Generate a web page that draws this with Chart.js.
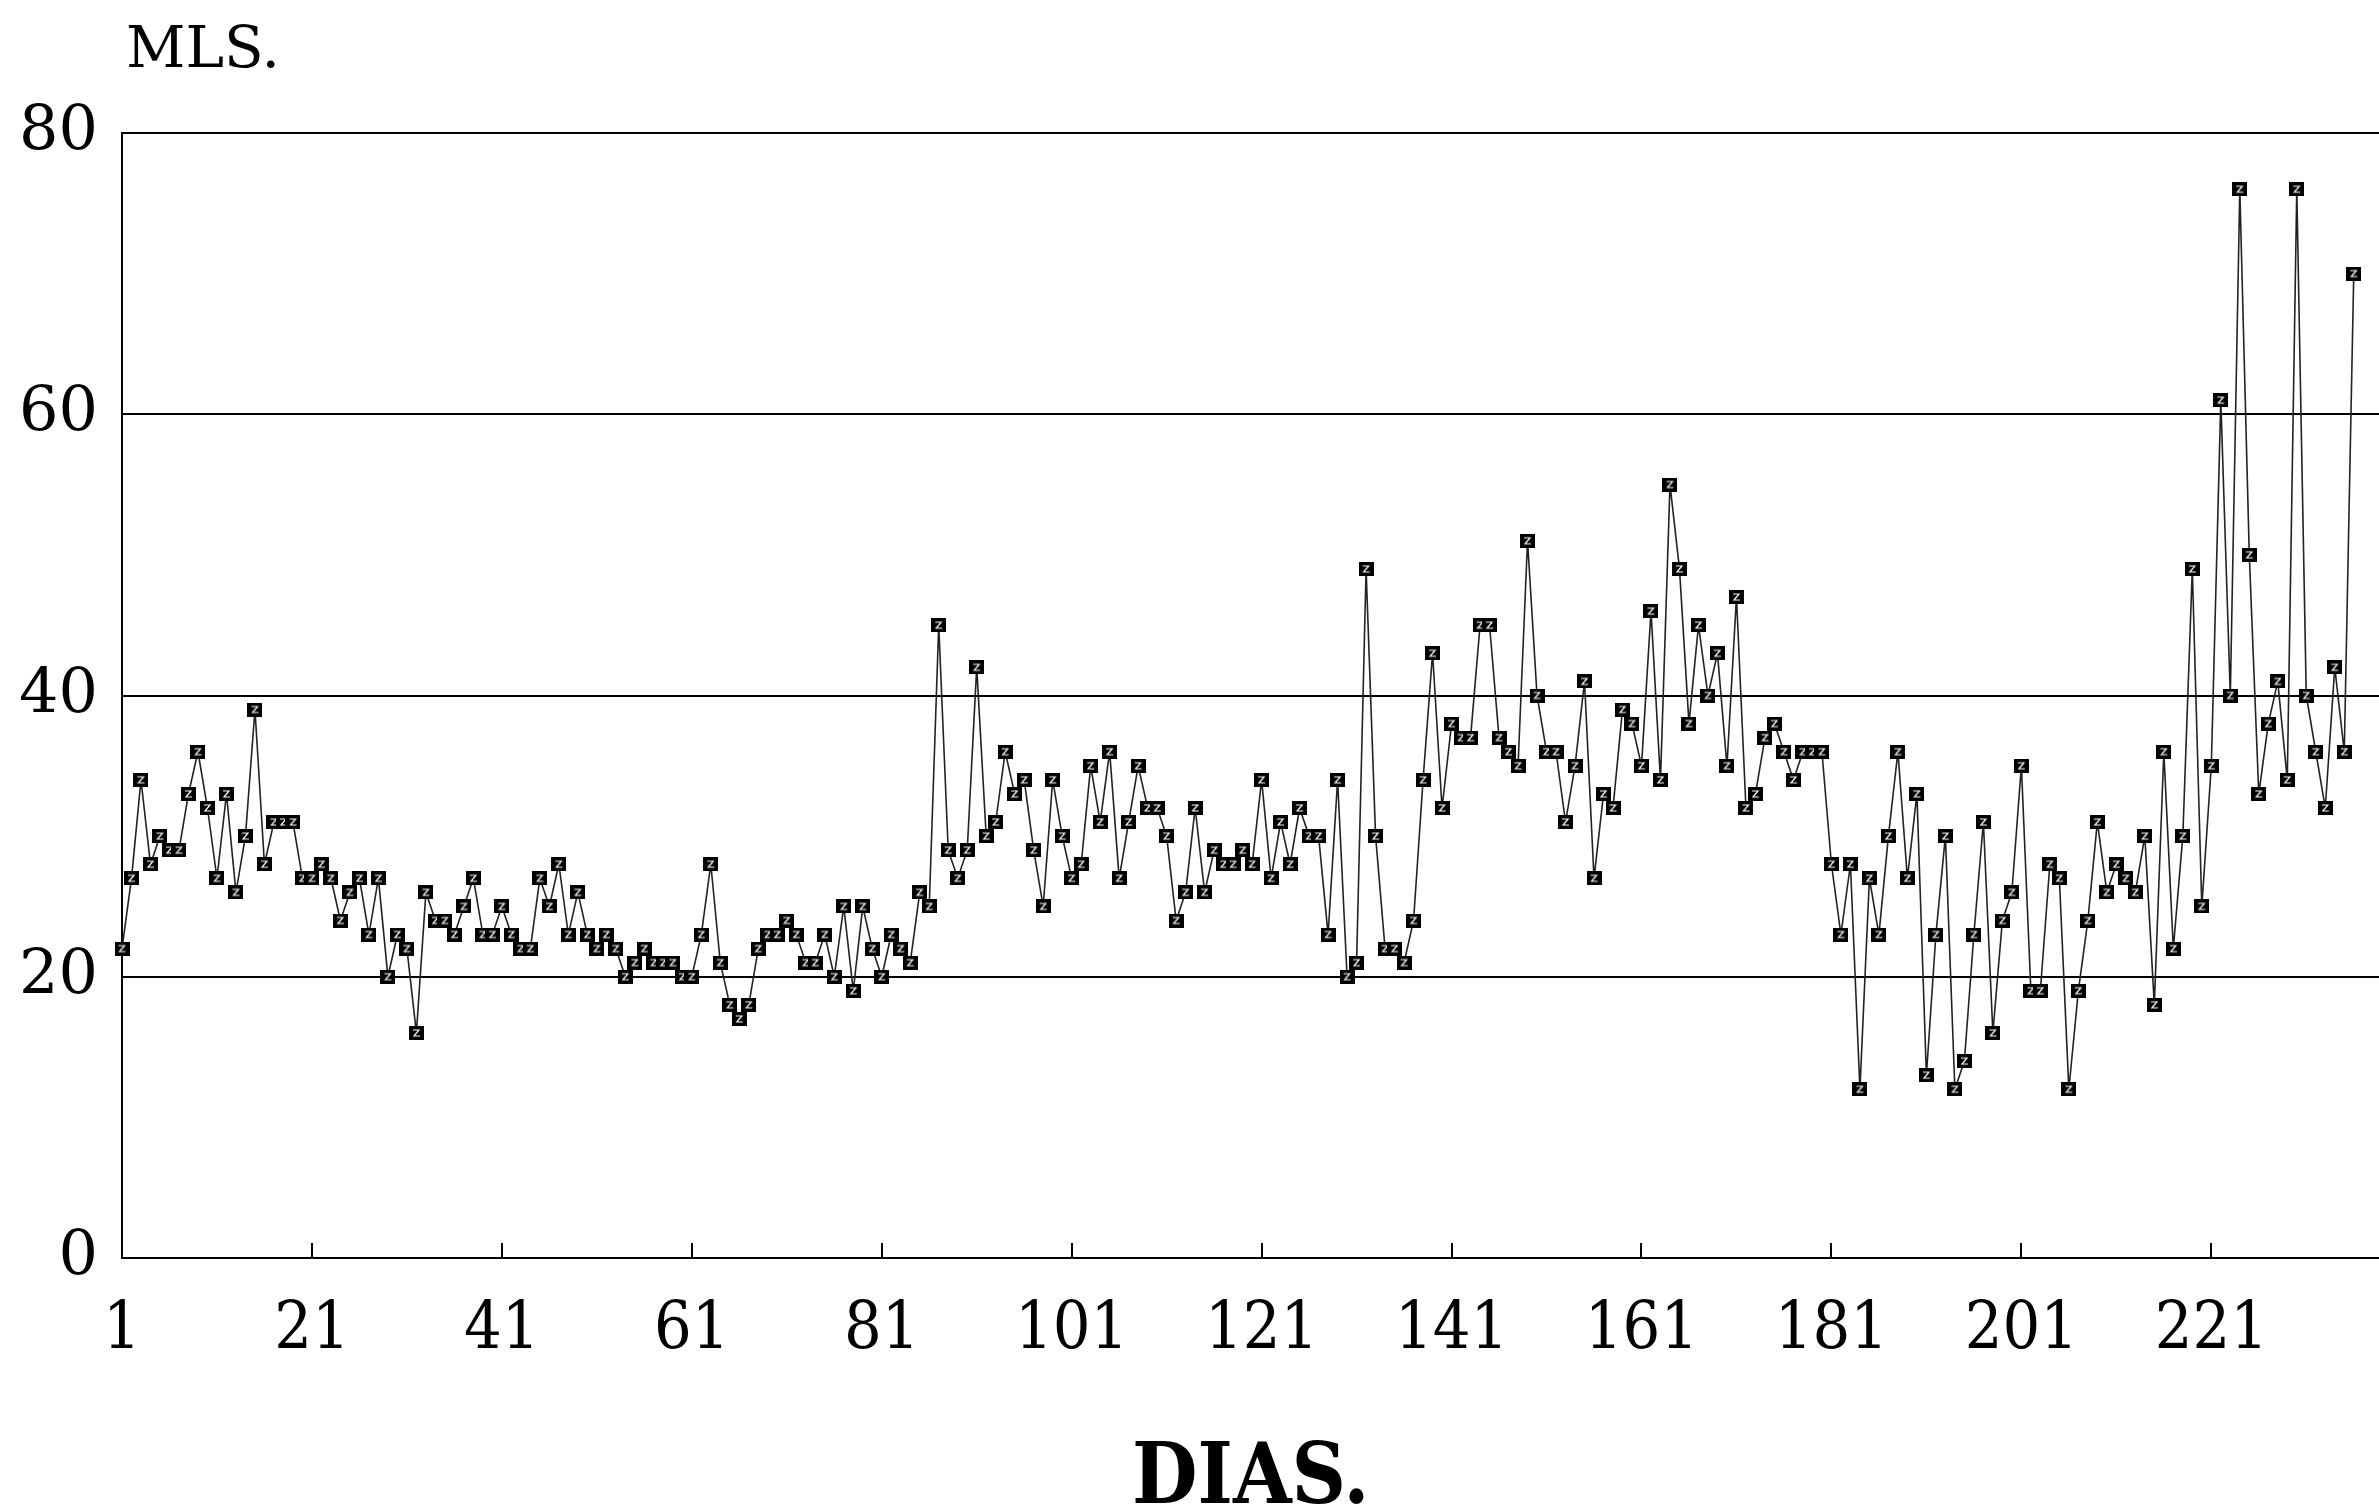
<!DOCTYPE html>
<html><head><meta charset="utf-8">
<script src="https://cdn.jsdelivr.net/npm/chart.js@4"></script>
<style>html,body{margin:0;padding:0;background:#fff;overflow:hidden}</style>
</head><body>
<canvas id="c" width="2388" height="1511"></canvas>
<script>
// Day numbers (categories) 1..236
const days = [
  1,2,3,4,5,6,7,8,9,10,11,12,13,14,15,16,17,18,19,20,
  21,22,23,24,25,26,27,28,29,30,31,32,33,34,35,36,37,38,39,40,
  41,42,43,44,45,46,47,48,49,50,51,52,53,54,55,56,57,58,59,60,
  61,62,63,64,65,66,67,68,69,70,71,72,73,74,75,76,77,78,79,80,
  81,82,83,84,85,86,87,88,89,90,91,92,93,94,95,96,97,98,99,100,
  101,102,103,104,105,106,107,108,109,110,111,112,113,114,115,116,117,118,119,120,
  121,122,123,124,125,126,127,128,129,130,131,132,133,134,135,136,137,138,139,140,
  141,142,143,144,145,146,147,148,149,150,151,152,153,154,155,156,157,158,159,160,
  161,162,163,164,165,166,167,168,169,170,171,172,173,174,175,176,177,178,179,180,
  181,182,183,184,185,186,187,188,189,190,191,192,193,194,195,196,197,198,199,200,
  201,202,203,204,205,206,207,208,209,210,211,212,213,214,215,216,217,218,219,220,
  221,222,223,224,225,226,227,228,229,230,231,232,233,234,235,236
];
// MLS. values
const mls = [
  22,27,34,28,30,29,29,33,36,32,27,33,26,30,39,28,31,31,31,27,
  27,28,27,24,26,27,23,27,20,23,22,16,26,24,24,23,25,27,23,23,
  25,23,22,22,27,25,28,23,26,23,22,23,22,20,21,22,21,21,21,20,
  20,23,28,21,18,17,18,22,23,23,24,23,21,21,23,20,25,19,25,22,
  20,23,22,21,26,25,45,29,27,29,42,30,31,36,33,34,29,25,34,30,
  27,28,35,31,36,27,31,35,32,32,30,24,26,32,26,29,28,28,29,28,
  34,27,31,28,32,30,30,23,34,20,21,49,30,22,22,21,24,34,43,32,
  38,37,37,45,45,37,36,35,51,40,36,36,31,35,41,27,33,32,39,38,
  35,46,34,55,49,38,45,40,43,35,47,32,33,37,38,36,34,36,36,36,
  28,23,28,12,27,23,30,36,27,33,13,23,30,12,14,23,31,16,24,26,
  35,19,19,28,27,12,19,24,31,26,28,27,26,30,18,36,22,30,49,25,
  35,61,40,76,50,33,38,41,34,76,40,36,32,42,36,70
];
const xTickLabels = [1,21,41,61,81,101,121,141,161,181,201,221];
const yTickLabels = [0,20,40,60,80];

function makeMarker(){
  const c = document.createElement('canvas');
  c.width = 15; c.height = 14;
  const g = c.getContext('2d');
  g.fillStyle = '#000'; g.fillRect(0,0,15,14);
  g.strokeStyle = '#fff'; g.lineWidth = 1.2;
  g.beginPath(); g.moveTo(4,4); g.lineTo(10,4); g.lineTo(5,10); g.lineTo(11,10); g.stroke();
  return c;
}
const marker = makeMarker();

const mlsLabel = {
  id: 'mlsLabel',
  afterDraw(chart){
    const ctx = chart.ctx;
    ctx.save();
    ctx.font = "58px 'DejaVu Serif'";
    ctx.fillStyle = '#000';
    ctx.textBaseline = 'alphabetic';
    ctx.textAlign = 'left';
    ctx.fillText('MLS.', 126, 67);
    ctx.restore();
  }
};

new Chart(document.getElementById('c'), {
  type: 'line',
  data: {
    datasets: [{
      data: days.map((d, i) => ({x: d, y: mls[i]})),
      borderColor: '#222',
      borderWidth: 1.6,
      tension: 0,
      pointStyle: marker,
      pointRadius: 7,
      clip: false
    }]
  },
  options: {
    responsive: false,
    animation: false,
    devicePixelRatio: 1,
    layout: {padding: {top: 133, left: 0, right: 0, bottom: 0}},
    plugins: {legend: {display: false}, tooltip: {enabled: false}},
    scales: {
      x: {
        type: 'linear', min: 1, max: 238.7,
        afterFit(s){ s.height = 253; },
        afterBuildTicks(s){ s.ticks = xTickLabels.map(v => ({value: v})); },
        ticks: {
          font: {family: "'DejaVu Serif Condensed','DejaVu Serif',serif", size: 66, lineHeight: 1},
          color: '#000', padding: 55, maxRotation: 0, autoSkip: false
        },
        grid: {drawOnChartArea: false, drawTicks: true, tickLength: -15, color: '#000', lineWidth: 2},
        border: {color: '#000', width: 2},
        title: {
          display: true, text: 'DIAS.', color: '#000',
          font: {family: "'DejaVu Serif Condensed','DejaVu Serif',serif", size: 84, weight: 'bold', lineHeight: 0.7},
          padding: {top: 0, bottom: 0}
        }
      },
      y: {
        min: 0, max: 80,
        afterFit(s){ s.width = 122; },
        afterBuildTicks(s){ s.ticks = yTickLabels.map(v => ({value: v})); },
        ticks: {font: {family: "'DejaVu Serif',serif", size: 62}, color: '#000', padding: 24},
        grid: {color: '#000', lineWidth: 2, drawTicks: false},
        border: {color: '#000', width: 2}
      }
    }
  },
  plugins: [mlsLabel]
});
</script>
</body></html>
